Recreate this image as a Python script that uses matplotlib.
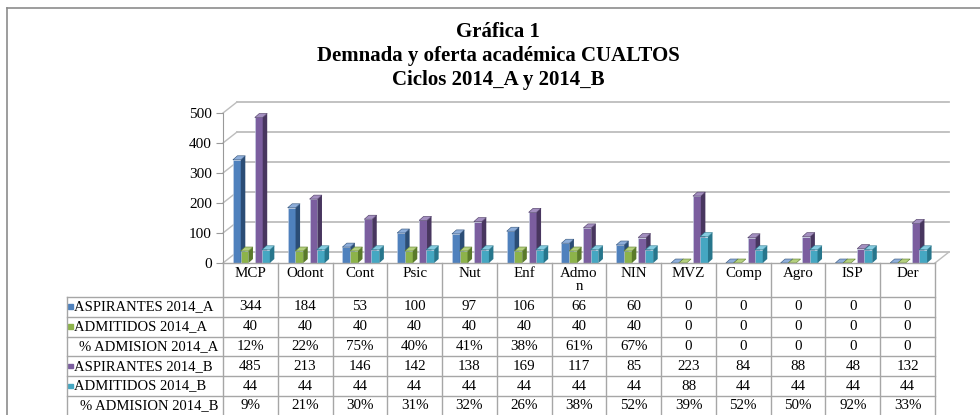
import matplotlib.pyplot as plt
from matplotlib.patches import Polygon, Rectangle

plt.rcParams['font.family'] = ['Liberation Serif', 'DejaVu Serif']

# datos
categorias = ['MCP', 'Odont', 'Cont', 'Psic', 'Nut', 'Enf', 'Admo\nn', 'NIN',
              'MVZ', 'Comp', 'Agro', 'ISP', 'Der']
aspirantes_a = [344, 184, 53, 100, 97, 106, 66, 60, 0, 0, 0, 0, 0]
admitidos_a = [40, 40, 40, 40, 40, 40, 40, 40, 0, 0, 0, 0, 0]
pct_a = ['12%', '22%', '75%', '40%', '41%', '38%', '61%', '67%', '0', '0', '0', '0', '0']
aspirantes_b = [485, 213, 146, 142, 138, 169, 117, 85, 223, 84, 88, 48, 132]
admitidos_b = [44, 44, 44, 44, 44, 44, 44, 44, 88, 44, 44, 44, 44]
pct_b = ['9%', '21%', '30%', '31%', '32%', '26%', '38%', '52%', '39%', '52%', '50%', '92%', '33%']

filas = ['ASPIRANTES 2014_A', 'ADMITIDOS 2014_A', '% ADMISION 2014_A',
         'ASPIRANTES 2014_B', 'ADMITIDOS 2014_B', '% ADMISION 2014_B']
valores_tabla = [aspirantes_a, admitidos_a, pct_a, aspirantes_b, admitidos_b, pct_b]

# (valores, frente, lado, tope, desplazamiento)
series = [
    (aspirantes_a, '#4F81BD', '#2B4D76', '#8EAEDA', 0.18),
    (admitidos_a, '#8DB34A', '#5A7A2A', '#B5D07E', 0.32),
    (aspirantes_b, '#7B5E9F', '#48365F', '#A38FC0', 0.58),
    (admitidos_b, '#45A7C2', '#27768C', '#86CCE0', 0.71),
]
colores_clave = ['#4F81BD', '#8DB34A', None, '#7B5E9F', '#45A7C2', None]

W, H = 980, 415
fig = plt.figure(figsize=(9.8, 4.15), dpi=100)

X0, X1 = 223, 935
Y0, Y500 = 263, 113
n = len(categorias)
ax = fig.add_axes([X0 / W, 1 - Y0 / H, (X1 - X0) / W, (Y0 - Y500) / H])
ax.set_xlim(0, n)
ax.set_ylim(0, 500)
px_x = n / (X1 - X0)
px_y = 500 / (Y0 - Y500)

gris = '#BDBDBD'
dxb, dyb = 14 * px_x, 11 * px_y
for v in range(0, 501, 100):
    ax.plot([dxb, n + dxb], [v + dyb] * 2, color=gris, lw=1.3, clip_on=False, zorder=1)
    ax.plot([0, dxb], [v, v + dyb], color=gris, lw=1.0, clip_on=False, zorder=1)
ax.plot([n, n + dxb], [0, dyb], color=gris, lw=1.0, clip_on=False, zorder=1)

ax.set_xticks([])
ax.set_yticks(range(0, 501, 100))
ax.tick_params(axis='y', direction='out', length=5, color='#999999', labelsize=11, pad=3)
for s in ['top', 'right', 'bottom']:
    ax.spines[s].set_visible(False)
ax.spines['left'].set_color('#999999')
ax.patch.set_alpha(0)

w = 0.145
dxs, dys = 4.5 * px_x, 4 * px_y
for z, (vals, frente, lado, tope, off) in enumerate(series):
    xs = [i + off for i in range(n)]
    ax.bar(xs, vals, width=w, align='edge', color=frente, edgecolor='#C9D6E8',
           linewidth=0.4, zorder=3 + z, clip_on=False)
    for x, v in zip(xs, vals):
        ax.add_patch(Polygon([(x + w, 0), (x + w + dxs, dys), (x + w + dxs, v + dys), (x + w, v)],
                             closed=True, facecolor=lado, edgecolor='none', zorder=3 + z, clip_on=False))
        ax.add_patch(Polygon([(x, v), (x + dxs, v + dys), (x + w + dxs, v + dys), (x + w, v)],
                             closed=True, facecolor=tope, edgecolor=lado, linewidth=0.4,
                             zorder=3 + z, clip_on=False))

# tabla de datos
tab = fig.add_axes([0, 0, 1, 1])
tab.set_xlim(0, W)
tab.set_ylim(H, 0)
tab.axis('off')
tab.patch.set_alpha(0)

linea = '#A6A6A6'
col_w = (X1 - X0) / n
XL = 67
y_head = 297
row_h = 19.8
y_fin = y_head + row_h * len(filas)
tab.plot([X0, X1], [Y0, Y0], color=linea, lw=1)
for k in range(n + 1):
    tab.plot([X0 + k * col_w] * 2, [Y0, y_fin], color=linea, lw=1)
tab.plot([XL, XL], [y_head, y_fin], color=linea, lw=1)
for r in range(len(filas) + 1):
    tab.plot([XL, X1], [y_head + r * row_h] * 2, color=linea, lw=1)

for k, c in enumerate(categorias):
    tab.text(X0 + (k + 0.5) * col_w, 267, c, ha='center', va='top', fontsize=10.8,
             linespacing=1.0)

for r, (nombre, vals) in enumerate(zip(filas, valores_tabla)):
    yc = y_head + (r + 0.5) * row_h
    if colores_clave[r]:
        tab.add_patch(Rectangle((68, yc - 2.5), 4.5, 4.5, color=colores_clave[r]))
        tab.text(74, yc, nombre, ha='left', va='center', fontsize=10.5)
    else:
        tab.text(218, yc, nombre, ha='right', va='center', fontsize=10.5)
    for k, v in enumerate(vals):
        tab.text(X0 + (k + 0.5) * col_w, yc, str(v), ha='center', va='center', fontsize=10.8)

# borde y titulo
tab.plot([7, 7], [8, H], color='#8C8C8C', lw=1.2)
tab.plot([7, W], [8, 8], color='#8C8C8C', lw=1.2)
titulos = ['Gráfica 1', 'Demnada y oferta académica CUALTOS', 'Ciclos 2014_A y 2014_B']
for i, t in enumerate(titulos):
    tab.text(498, 32 + 24 * i, t, ha='center', va='center', fontsize=15, fontweight='bold')

fig.savefig('out.png', dpi=100)
